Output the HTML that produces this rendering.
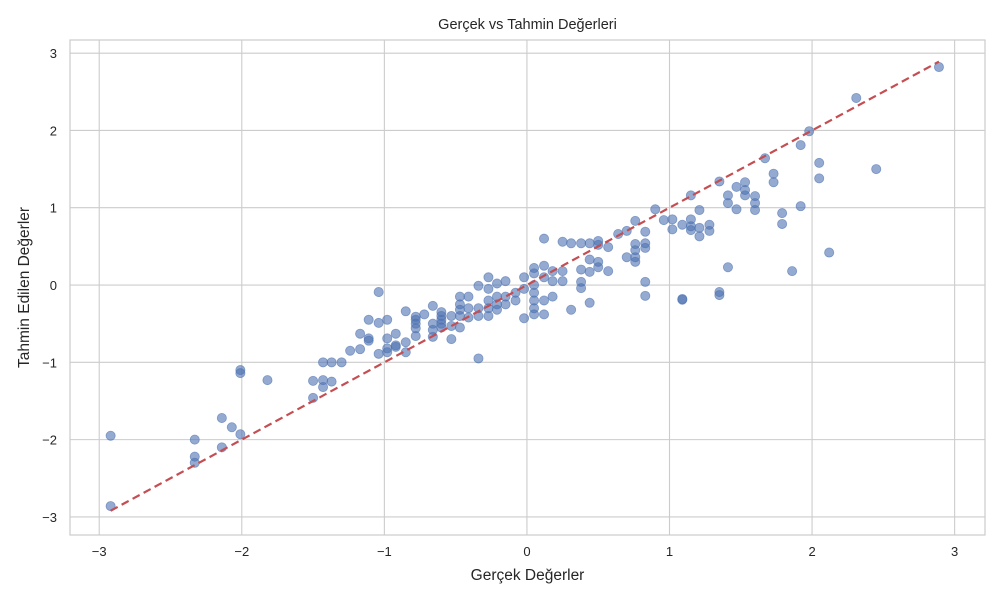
<!DOCTYPE html>
<html><head><meta charset="utf-8"><style>
body{margin:0;background:#fff;font-family:"Liberation Sans","DejaVu Sans",sans-serif;}
svg text{font-family:"Liberation Sans","DejaVu Sans",sans-serif;fill:#262626;}
</style></head><body>
<svg id="chart" width="1000" height="600" xmlns="http://www.w3.org/2000/svg"></svg>
<script>
const actualValues=[-2.92,-2.92,-2.33,-2.33,-2.33,-2.14,-2.14,-2.07,-2.01,-2.01,-2.01,-1.82,-1.50,-1.50,-1.43,-1.43,-1.43,-1.37,-1.37,-1.30,-1.24,-1.17,-1.17,-1.11,-1.11,-1.11,-1.04,-1.04,-1.04,-0.98,-0.98,-0.98,-0.98,-0.92,-0.92,-0.92,-0.85,-0.85,-0.85,-0.78,-0.78,-0.78,-0.78,-0.78,-0.72,-0.66,-0.66,-0.66,-0.66,-0.6,-0.6,-0.6,-0.6,-0.6,-0.53,-0.53,-0.53,-0.47,-0.47,-0.47,-0.47,-0.47,-0.41,-0.41,-0.41,-0.34,-0.34,-0.34,-0.34,-0.27,-0.27,-0.27,-0.27,-0.27,-0.21,-0.21,-0.21,-0.21,-0.15,-0.15,-0.15,-0.08,-0.08,-0.02,-0.02,-0.02,0.05,0.05,0.05,0.05,0.05,0.05,0.05,0.12,0.12,0.12,0.12,0.12,0.18,0.18,0.18,0.25,0.25,0.25,0.31,0.31,0.38,0.38,0.38,0.38,0.44,0.44,0.44,0.44,0.5,0.5,0.5,0.5,0.57,0.57,0.64,0.7,0.7,0.76,0.76,0.76,0.76,0.76,0.83,0.83,0.83,0.83,0.83,0.9,0.96,1.02,1.02,1.09,1.09,1.09,1.15,1.15,1.15,1.15,1.21,1.21,1.21,1.28,1.28,1.35,1.35,1.35,1.41,1.41,1.41,1.47,1.47,1.53,1.53,1.53,1.6,1.6,1.6,1.67,1.73,1.73,1.79,1.79,1.86,1.92,1.92,1.98,2.05,2.05,2.12,2.31,2.45,2.89];
const predictedValues=[-1.95,-2.86,-2.0,-2.22,-2.30,-1.72,-2.10,-1.84,-1.93,-1.10,-1.14,-1.23,-1.24,-1.46,-1.0,-1.23,-1.32,-1.0,-1.25,-1.0,-0.85,-0.63,-0.83,-0.45,-0.69,-0.72,-0.09,-0.49,-0.89,-0.45,-0.69,-0.82,-0.87,-0.63,-0.78,-0.80,-0.34,-0.74,-0.87,-0.41,-0.45,-0.50,-0.56,-0.66,-0.38,-0.67,-0.27,-0.5,-0.58,-0.35,-0.4,-0.45,-0.5,-0.55,-0.4,-0.53,-0.7,-0.15,-0.25,-0.32,-0.4,-0.55,-0.15,-0.3,-0.42,-0.01,-0.3,-0.4,-0.95,0.1,-0.05,-0.2,-0.3,-0.4,0.02,-0.15,-0.25,-0.32,0.05,-0.15,-0.25,-0.1,-0.2,0.1,-0.05,-0.43,0.22,0.15,0.0,-0.1,-0.2,-0.3,-0.38,0.6,0.25,0.1,-0.2,-0.38,0.18,0.05,-0.15,0.56,0.18,0.05,0.54,-0.32,0.54,0.2,0.04,-0.04,0.54,0.33,0.17,-0.23,0.57,0.52,0.3,0.23,0.49,0.18,0.66,0.7,0.36,0.53,0.45,0.36,0.3,0.83,0.69,0.54,0.48,0.04,-0.14,0.98,0.84,0.85,0.72,0.78,-0.18,-0.19,1.16,0.85,0.76,0.71,0.97,0.74,0.63,0.78,0.70,1.34,-0.09,-0.13,1.16,1.06,0.23,1.27,0.98,1.33,1.23,1.16,1.15,1.06,0.97,1.64,1.44,1.33,0.93,0.79,0.18,1.81,1.02,1.99,1.58,1.38,0.42,2.42,1.50,2.82];
const xTicks=[-3,-2,-1,0,1,2,3];
const yTicks=[-3,-2,-1,0,1,2,3];
const NS="http://www.w3.org/2000/svg";
const svg=document.getElementById('chart');
const L=70,R=985,T=40,B=535;
const xMin=-3.205,xMax=3.213,yMin=-3.234,yMax=3.17;
const sx=v=>L+(v-xMin)/(xMax-xMin)*(R-L);
const sy=v=>B-(v-yMin)/(yMax-yMin)*(B-T);
function mk(tag,attrs,parent){const e=document.createElementNS(NS,tag);for(const k in attrs)e.setAttribute(k,attrs[k]);(parent||svg).appendChild(e);return e;}
const grid=mk('g',{});


xTicks.forEach(t=>{
  mk('line',{x1:sx(t),x2:sx(t),y1:T,y2:B,stroke:'#cccccc','stroke-width':1.1},grid);
  const tx=mk('text',{x:sx(t),y:B+21,'text-anchor':'middle','font-size':13});
  tx.textContent=(t<0?'\u2212'+(-t):t);
  
  
});
yTicks.forEach(t=>{
  mk('line',{x1:L,x2:R,y1:sy(t),y2:sy(t),stroke:'#cccccc','stroke-width':1.1},grid);
  const tx=mk('text',{x:L-13,y:sy(t)+5,'text-anchor':'end','font-size':13});
  tx.textContent=(t<0?'\u2212'+(-t):t);
  
  
});
const frame=mk('rect',{x:L,y:T,width:R-L,height:B-T,fill:'none',stroke:'#cccccc','stroke-width':1.2});


const pts=mk('g',{});


actualValues.forEach((v,i)=>{
  const c=mk('circle',{cx:sx(v),cy:sy(predictedValues[i]),r:4.6,fill:'#4c72b0','fill-opacity':0.6,stroke:'#4c72b0','stroke-opacity':0.6,'stroke-width':0.8},pts);
  
  
});
const lo=Math.min(...actualValues),hi=Math.max(...actualValues);
const ln=mk('line',{x1:sx(lo),y1:sy(lo),x2:sx(hi),y2:sy(hi),stroke:'#c44e52','stroke-width':2.2,'stroke-dasharray':'8,4.5'});


const title=mk('text',{x:(L+R)/2,y:29,'text-anchor':'middle','font-size':14.5});
title.textContent='Gerçek vs Tahmin Değerleri';


const xl=mk('text',{x:(L+R)/2,y:580,'text-anchor':'middle','font-size':15.5});
xl.textContent='Gerçek Değerler';


const yl=mk('text',{x:0,y:0,'text-anchor':'middle','font-size':15.5,transform:'translate(29,'+((T+B)/2)+') rotate(-90)'});
yl.textContent='Tahmin Edilen Değerler';


</script>
</body></html>
